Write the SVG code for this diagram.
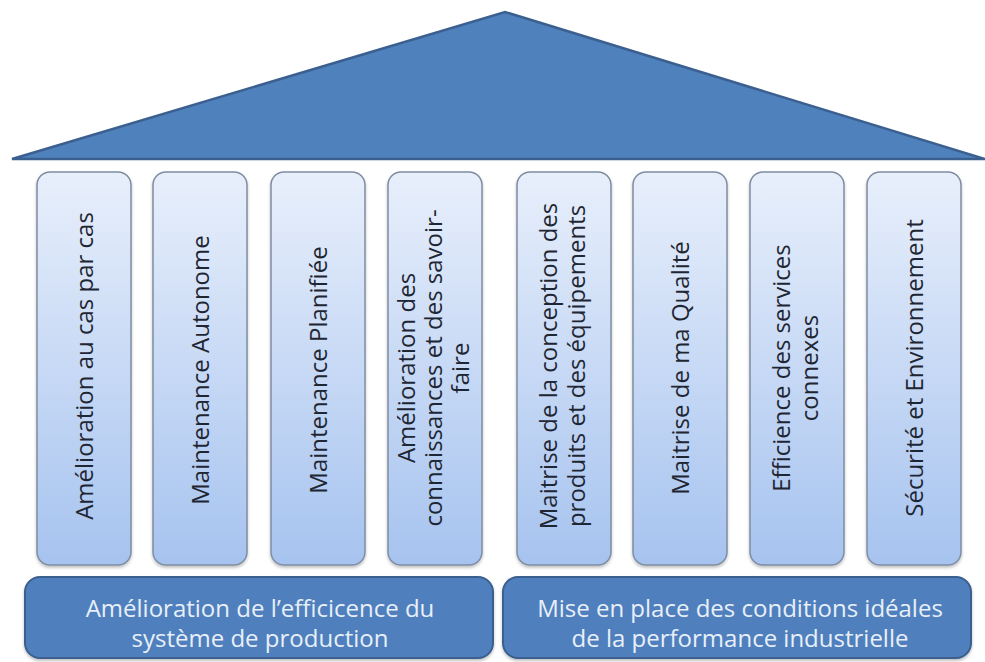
<svg xmlns="http://www.w3.org/2000/svg" width="985" height="662" viewBox="0 0 985 662">
<defs>
<linearGradient id="pg" x1="0" y1="0" x2="0" y2="1">
<stop offset="0" stop-color="#e8effb"/>
<stop offset="1" stop-color="#a6c3ef"/>
</linearGradient>
<filter id="sh" x="-10%" y="-10%" width="120%" height="120%">
<feDropShadow dx="0" dy="2" stdDeviation="1.5" flood-color="#000" flood-opacity="0.25"/>
</filter>
</defs>
<style>
.pillar{fill:url(#pg);stroke:#7f8da3;stroke-width:1.5;filter:url(#sh)}
.bar{fill:#4f80bd;stroke:#3a5f8e;stroke-width:2;filter:url(#sh)}
.vt{font-family:"Open Sans","Noto Sans",sans-serif;font-size:24px;fill:#1e2633;text-anchor:middle}
.bt{font-family:"Open Sans","Noto Sans",sans-serif;font-size:24px;fill:#e8eff9;text-anchor:middle}
</style>
<rect width="985" height="662" fill="#ffffff"/>
<g id="roof">
<polygon points="12,159 505,12 985,159" fill="#4f81bd" stroke="#3b6090" stroke-width="2.5" stroke-linejoin="miter"/>
</g>
<g id="p1"><rect class="pillar" x="37" y="172" width="94" height="393" rx="13"/>
<text class="vt" transform="translate(84,366) rotate(-90)"><tspan x="0" y="9">Amélioration au cas par cas</tspan></text></g>
<g id="p2"><rect class="pillar" x="153" y="172" width="94" height="393" rx="13"/>
<text class="vt" transform="translate(200,370) rotate(-90)"><tspan x="0" y="9">Maintenance Autonome</tspan></text></g>
<g id="p3"><rect class="pillar" x="271" y="172" width="94" height="393" rx="13"/>
<text class="vt" transform="translate(318,370) rotate(-90)"><tspan x="0" y="9">Maintenance Planifiée</tspan></text></g>
<g id="p4"><rect class="pillar" x="388" y="172" width="94" height="393" rx="13"/>
<text class="vt" transform="translate(435,368) rotate(-90)"><tspan x="0" y="-20">Amélioration des</tspan><tspan x="0" y="7">connaissances et des savoir-</tspan><tspan x="0" y="34">faire</tspan></text></g>
<g id="p5"><rect class="pillar" x="517" y="172" width="94" height="393" rx="13"/>
<text class="vt" transform="translate(564,366) rotate(-90)"><tspan x="0" y="-7">Maitrise de la conception des</tspan><tspan x="0" y="21">produits et des équipements</tspan></text></g>
<g id="p6"><rect class="pillar" x="633" y="172" width="94" height="393" rx="13"/>
<text class="vt" transform="translate(680,368) rotate(-90)"><tspan x="0" y="9">Maitrise de ma Qualité</tspan></text></g>
<g id="p7"><rect class="pillar" x="750" y="172" width="94" height="393" rx="13"/>
<text class="vt" transform="translate(797,368) rotate(-90)"><tspan x="0" y="-7">Efficience des services</tspan><tspan x="0" y="21">connexes</tspan></text></g>
<g id="p8"><rect class="pillar" x="867" y="172" width="94" height="393" rx="13"/>
<text class="vt" transform="translate(914,368) rotate(-90)"><tspan x="0" y="9">Sécurité et Environnement</tspan></text></g>
<g id="b1"><rect class="bar" x="25" y="577" width="468" height="81" rx="15"/>
<text class="bt"><tspan x="260" y="617">Amélioration de l’efficicence du</tspan><tspan x="260" y="647">système de production</tspan></text></g>
<g id="b2"><rect class="bar" x="503" y="577" width="468" height="81" rx="15"/>
<text class="bt"><tspan x="740" y="617">Mise en place des conditions idéales</tspan><tspan x="740" y="647">de la performance industrielle</tspan></text></g>
<g id="connectors"></g>
</svg>
